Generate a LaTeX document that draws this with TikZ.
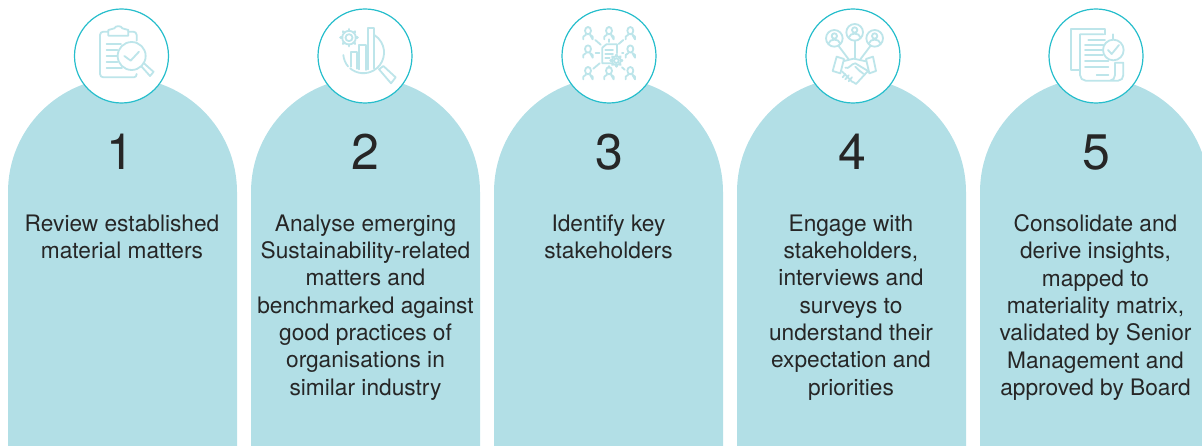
\documentclass[tikz,border=0pt]{standalone}
\usepackage{fontspec}
\setmainfont{TeX Gyre Heros}
\definecolor{band}{HTML}{B2DFE6}
\definecolor{ring}{HTML}{27BECC}
\definecolor{iconc}{HTML}{BDE5EA}
\tikzset{
  ringnode/.style={circle,draw=ring,line width=1.2pt,fill=white,minimum size=94pt,inner sep=0pt},
  numnode/.style={anchor=base,font=\fontsize{50}{50}\selectfont,text=black!85,inner sep=0pt},
  textnode/.style={anchor=north,align=center,inner sep=0pt,text=black!85,font=\fontsize{22.7}{27.3}\selectfont},
  icon/.style={draw=iconc,line width=1.8pt,line cap=round,line join=round}
}
\newcommand{\archcol}[1]{\fill[band] (#1-114.5,446) -- (#1-114.5,192) arc (180:360:114.5) -- (#1+114.5,446) -- cycle;}
\newcommand{\person}[2]{%
  \draw[icon] (#1,#2-8) circle[x radius=9,y radius=11];
  \draw[icon] (#1-14,#2+18) -- (#1-14,#2+10) -- (#1-6,#2+4) (#1+6,#2+4) -- (#1+14,#2+10) -- (#1+14,#2+18) -- cycle;
}
\newcommand{\gear}[3]{%
  \draw[icon] (#1,#2) circle[radius=#3*0.42];
  \draw[icon] (#1,#2) circle[radius=#3*0.82];
  \foreach \a in {0,45,...,315}{\draw[icon,line width=2.6pt] (#1,#2)++(\a:#3*0.82) -- ++(\a:#3*0.2);}
}
\begin{document}
\begin{tikzpicture}[x=1pt,y=-1pt]
\useasboundingbox (0,0) rectangle (1202,446);
\clip (0,0) rectangle (1202,446);
\archcol{122.5}
\archcol{365.5}
\archcol{608.5}
\archcol{851.5}
\archcol{1094.5}
\node[ringnode] (ring1) at (121.5,56) {};
\node[ringnode] (ring2) at (365,56) {};
\node[ringnode] (ring3) at (609,56) {};
\node[ringnode] (ring4) at (853,56) {};
\node[ringnode] (ring5) at (1096,56) {};
\node[numnode] (num1) at (120.5,170) {1};
\node[numnode] (num2) at (365.5,170) {2};
\node[numnode] (num3) at (609,170) {3};
\node[numnode] (num4) at (852,170) {4};
\node[numnode] (num5) at (1096,170) {5};
\node[textnode] (txt1) at (122,214.5) {Review established\\material matters};
\node[textnode] (txt2) at (365.5,214.5) {Analyse emerging\\Sustainability-related\\matters and\\benchmarked against\\good practices of\\organisations in\\similar industry};
\node[textnode] (txt3) at (608.5,214.5) {Identify key\\stakeholders};
\node[textnode] (txt4) at (851,214.5) {Engage with\\stakeholders,\\interviews and\\surveys to\\understand their\\expectation and\\priorities};
\node[textnode] (txt5) at (1095.5,214.5) {Consolidate and\\derive insights,\\mapped to\\materiality matrix,\\validated by Senior\\Management and\\approved by Board};
% icon 1
\begin{scope}[shift={(60,0)},x=0.33333pt,y=-0.33333pt]
\draw[icon] (145,95) -- (130,95) to[out=180,in=90] (120,105) -- (120,222) to[out=270,in=180] (130,232) -- (222,232) to[out=0,in=270] (230,222) (230,122) -- (230,105) to[out=90,in=0] (220,95) -- (205,95);
\draw[icon] (145,107) -- (145,90) -- (163,85) to[out=70,in=110] (187,85) -- (205,90) -- (205,107) -- cycle;
\foreach \yy/\xe in {133/183,150/172,168/172,186/172,203/186}{\draw[icon] (140,\yy) -- (\xe,\yy);}
\draw[icon] (215,168) circle[radius=42];
\draw[icon] (193,168) -- (212,182) -- (237,155);
\draw[icon] (245,200) -- (270,228) to[out=45,in=45] (280,215) -- (252,190);
\end{scope}
% icon 2
\begin{scope}[shift={(305,0)},x=0.33333pt,y=-0.33333pt]
\gear{132}{113}{25}
\draw[icon] (208,105) arc (-58:-30:62) arc (-30:130:62) (115,165) arc (175:140:62);
\draw[icon] (138,200) -- (138,155) -- (155,155) -- (155,206);
\draw[icon] (162,208) -- (162,135) -- (184,135) -- (184,210);
\draw[icon] (190,208) -- (190,84) -- (208,84) -- (208,205);
\draw[icon] (222,208) -- (235,198) -- (272,232) -- (258,250) -- cycle;
\end{scope}
% icon 3
\begin{scope}[shift={(548,0)},x=0.33333pt,y=-0.33333pt]
\person{120}{100}\person{183}{100}\person{247}{100}
\person{120}{155}\person{247}{155}
\person{120}{220}\person{183}{220}\person{247}{220}
\draw[icon] (190,190) -- (163,190) -- (163,143) -- (175,133) -- (207,133) -- (207,160);
\foreach \yy/\xe in {150/195,162/195,175/185}{\draw[icon] (172,\yy) -- (\xe,\yy);}
\gear{205}{182}{17}
\draw[icon] (142,120) -- (158,134);
\draw[icon] (183,118) -- (183,126);
\draw[icon] (226,120) -- (212,132);
\draw[icon] (143,160) -- (154,160);
\draw[icon] (222,160) -- (226,160);
\draw[icon] (155,190) -- (136,206);
\draw[icon] (183,198) -- (183,204);
\draw[icon] (222,202) -- (230,209);
\end{scope}
% icon 4
\begin{scope}[shift={(792,0)},x=0.33333pt,y=-0.33333pt]
\foreach \cx/\cy in {127/115,188/97,248/115}{
  \draw[icon] (\cx,\cy) circle[radius=25];
  \draw[icon] (\cx,\cy-7) circle[radius=8];
  \draw[icon] (\cx-17,\cy+15) to[out=80,in=180] (\cx,\cy+4) to[out=0,in=100] (\cx+17,\cy+15);
}
\draw[icon] (139,137) -- (170,178);
\draw[icon] (188,122) -- (188,175);
\draw[icon] (236,137) -- (205,178);
\draw[icon] (134,170) -- (156,177) -- (145,220) -- (122,213) -- cycle;
\draw[icon] (243,170) -- (222,177) -- (232,220) -- (252,213) -- cycle;
\draw[icon] (156,183) -- (185,176) -- (222,184);
\draw[icon] (160,203) to[out=-30,in=180] (190,190) -- (228,213);
\draw[icon] (150,214) -- (180,245) to[out=30,in=180] (192,252) -- (228,213);
\draw[icon] (160,222) -- (152,232) (170,226) -- (160,238) (180,232) -- (170,244) (205,215) -- (190,200) (215,222) -- (200,210);
\end{scope}
% icon 5
\begin{scope}[shift={(1035,0)},x=0.33333pt,y=-0.33333pt]
\draw[icon] (135,210) -- (109,210) -- (109,87) -- (209,87) -- (209,103);
\draw[icon] (205,103) -- (135,103) -- (135,225) to[out=270,in=180] (152,242) -- (250,242) to[out=0,in=270] (265,225) -- (265,188) -- (240,188) -- (240,225) to[out=270,in=0] (225,242);
\draw[icon] (235,103) -- (235,118);
\foreach \yy/\xs/\xe in {120/160/210,135/150/205,150/150/203,165/150/203,182/150/220,200/150/220,226/185/220}{\draw[icon] (\xs,\yy) -- (\xe,\yy);}
\draw[icon] (235,150) circle[radius=31];
\draw[icon] (219,150) -- (230,162) -- (252,135);
\end{scope}
\end{tikzpicture}
\end{document}
